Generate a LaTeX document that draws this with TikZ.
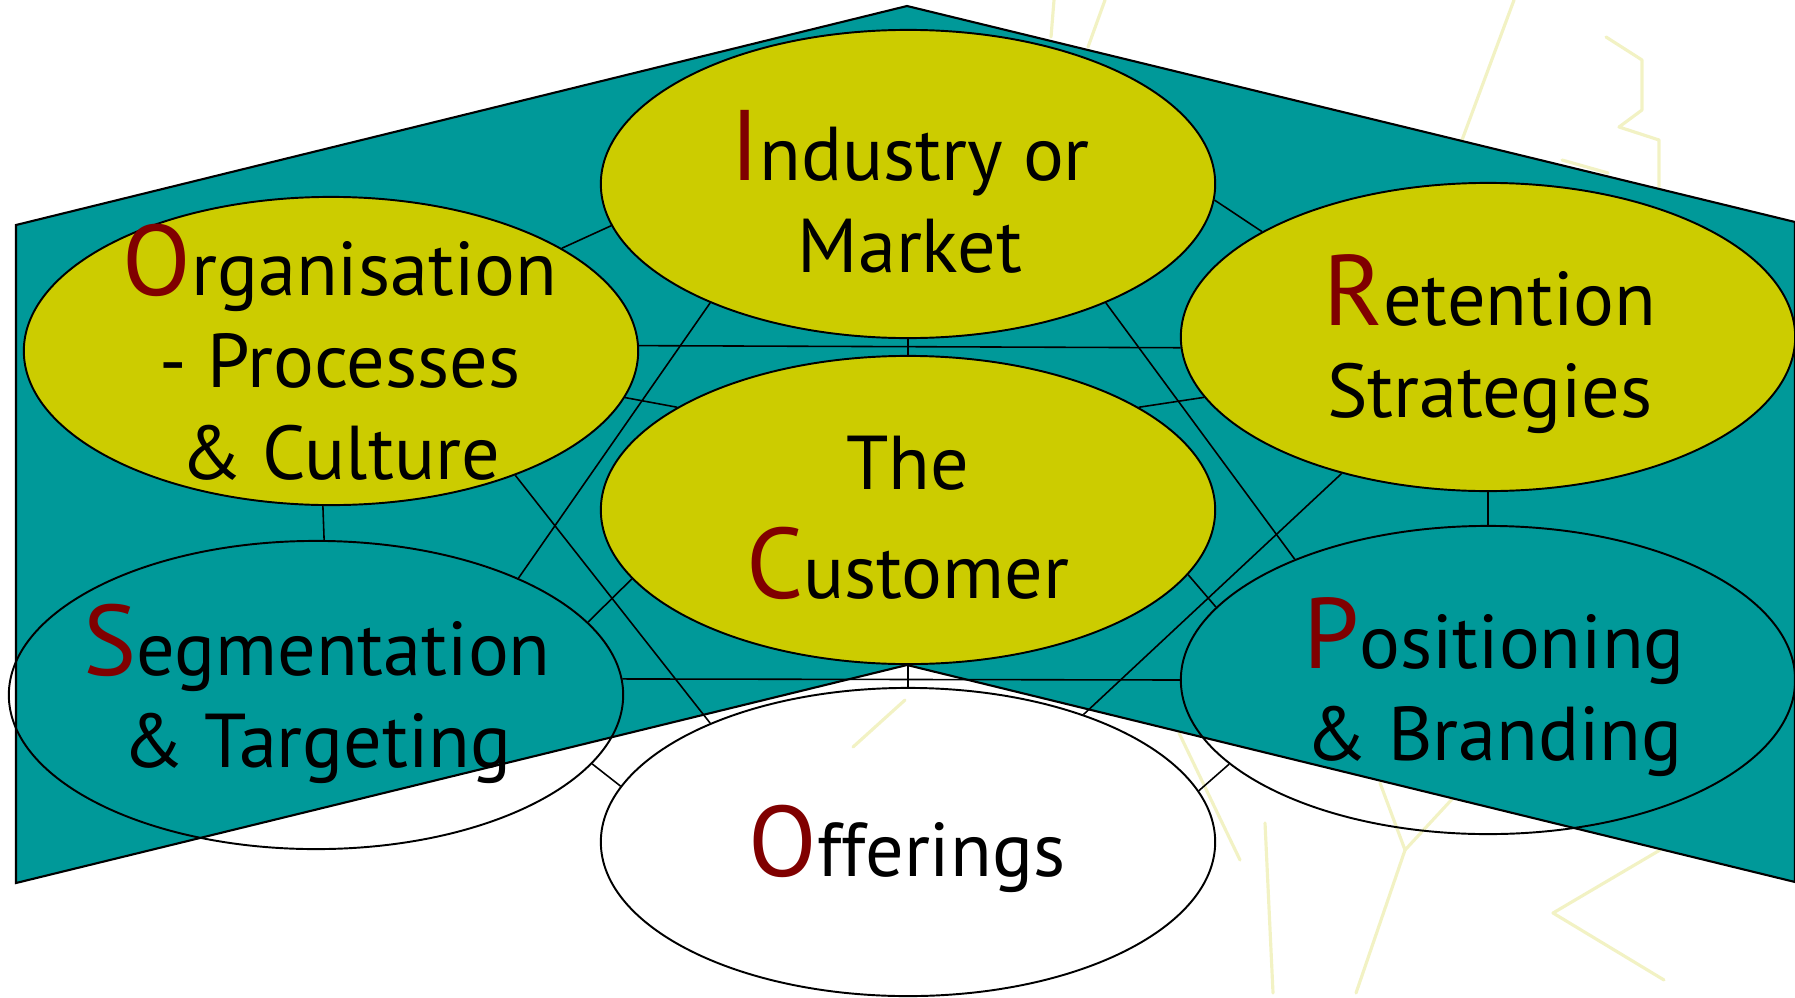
\documentclass[tikz,border=0pt]{standalone}
\usepackage{fontspec}
\setmainfont{PT Sans}
\usetikzlibrary{shapes.geometric}
\definecolor{panel}{RGB}{0,153,153}
\definecolor{mustard}{RGB}{204,204,0}
\definecolor{initred}{RGB}{128,0,0}
\definecolor{scrib}{RGB}{242,242,196}
\newcommand{\ini}[1]{{\fontsize{28.5}{28.5}\selectfont\color{initred}#1}}

\begin{document}
\begin{tikzpicture}[x=0.01cm,y=-0.01cm]
	\tikzstyle{every node}=[inner sep=0pt]
	\tikzstyle{blob}=[ellipse, draw, line width=0.55pt, minimum width=6.14cm, minimum height=3.08cm]
	\tikzstyle{word}=[align=center, font=\fontsize{21.7}{26.1}\selectfont]
	\tikzstyle{link}=[line width=0.45pt]
	\tikzstyle{scribble}=[scrib, line width=0.9pt, line cap=round, line join=round]
	\useasboundingbox (0,0) rectangle (1795,997);
	% faint strokes in the background
	\draw[scribble] (1054,0) -- (1051,37);
	\draw[scribble] (1105,0) -- (1088,47);
	\draw[scribble] (1514,0) -- (1462,140);
	\draw[scribble] (1606,37) -- (1642,60) -- (1642,110) -- (1619,127) -- (1659,140) -- (1659,187);
	\draw[scribble] (1562,160) -- (1608,173);
	\draw[scribble] (1179,733) -- (1240,860);
	\draw[scribble] (1265,823) -- (1273,993);
	\draw[scribble] (1380,783) -- (1405,850) -- (1454,797);
	\draw[scribble] (1405,850) -- (1356,993);
	\draw[scribble] (1660,850) -- (1553,913) -- (1664,980);
	\draw[scribble] (853,747) -- (905,700);
	% the folded panel
	\draw[fill=panel, line width=0.6pt] (16,225) -- (907,6) -- (1795,222) -- (1795,882) -- (907,665) -- (16,883) -- cycle;
	% the seven ovals
	\draw (908,184) node (ind) [blob,fill=mustard] {};
	\draw (908,510) node (cus) [blob,fill=mustard] {};
	\draw (908,842) node (off) [blob] {};
	\draw (331,351) node (org) [blob,fill=mustard] {};
	\draw (316,695) node (seg) [blob] {};
	\draw (1488,337) node (ret) [blob,fill=mustard] {};
	\draw (1488,680) node (pos) [blob] {};
	% labels
	\node (ind-t) [word] at (910,192) {\ini{I}ndustry or\\Market};
	\node (org-t) [word] at (340,352) {\ini{O}rganisation\\- Processes\\\& Culture};
	\node (ret-t) [word] at (1490,344) {\ini{R}etention\\Strategies};
	\node (cus-t) [word] at (908,518) {The\\[5pt]\ini{C}ustomer};
	\node (seg-t) [word] at (317,694) {\ini{S}egmentation\\\& Targeting};
	\node (pos-t) [word] at (1494,687) {\ini{P}ositioning\\\& Branding};
	\node (off-t) [word] at (907,849) {\ini{O}fferings};
	% connectors
	\draw[link] (org.24) -- (ind.188);
	\draw[link] (ind.-3) -- (ret.155);
	\draw[link] (org.1) -- (ret.182);
	\draw[link] (ind.south) -- (cus.north);
	\draw[link] (org.-9) -- (cus.156);
	\draw[link] (ret.192) -- (cus.24);
	\draw[link] (ind.-149) -- (seg.30);
	\draw[link] (org.-34) -- (off.149);
	\draw[link] (ind.-31) -- (pos.148);
	\draw[link] (ret.-137) -- (off.36);
	\draw[link] (org.-93) -- (seg.87);
	\draw[link] (ret.south) -- (pos.north);
	\draw[link] (cus.-166) -- (seg.15);
	\draw[link] (cus.-13) -- (pos.165);
	\draw[link] (seg.3) -- (pos.180);
	\draw[link] (cus.south) -- (off.north);
	\draw[link] (seg.-14) -- (off.169);
	\draw[link] (pos.-162) -- (off.10);
\end{tikzpicture}
\end{document}
